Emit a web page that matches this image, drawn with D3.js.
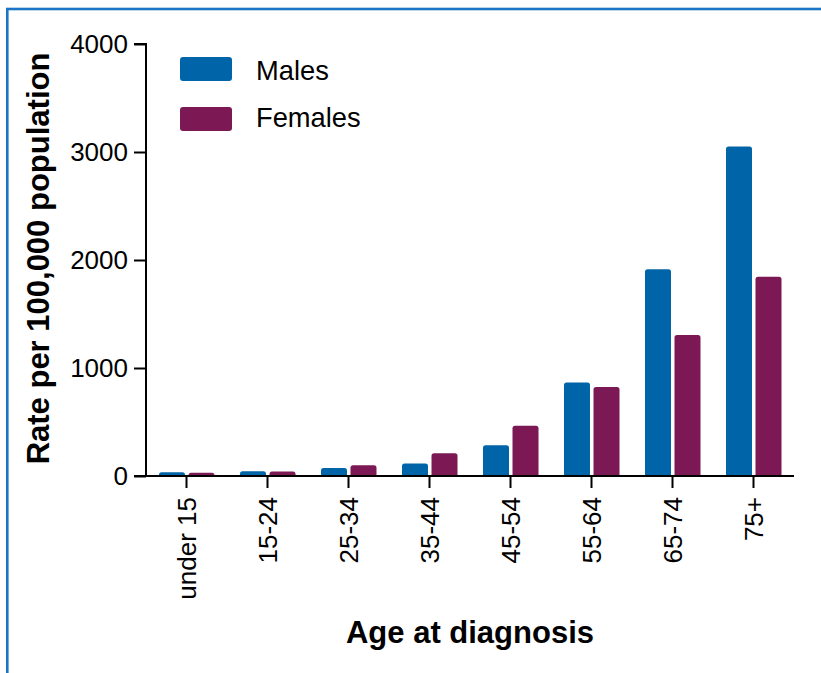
<!DOCTYPE html>
<html><head><meta charset="utf-8">
<script src="https://cdn.jsdelivr.net/npm/d3@7"></script>
<style>
html,body{margin:0;padding:0;background:#fff;}
svg{display:block;font-family:"Liberation Sans",Arial,Helvetica,sans-serif;}
</style></head>
<body>
<svg id="chart" width="821" height="673"></svg>
<script>
const categories = ["under 15","15-24","25-34","35-44","45-54","55-64","65-74","75+"];
const seriesNames = ["Males","Females"];
const males   = [35, 45, 75, 115, 285, 865, 1915, 3050];
const females = [30, 42, 100, 210, 465, 825, 1305, 1845];
const yTicks = [0, 1000, 2000, 3000, 4000];
const colors = ["#0064a8", "#7c1955"];

(function () {
const svg = d3.select("#chart");
const mLeft = 146, mRight = 794, mTop = 44, mBottom = 476;

// frame
svg.append("rect").attr("x", 7.3).attr("y", 9).attr("width", 900).attr("height", 900)
  .attr("fill", "none").attr("stroke", "#1a76c4").attr("stroke-width", 2.6);

const x0 = d3.scaleBand().domain(categories).range([mLeft, mRight]).paddingInner(0).paddingOuter(0);
const bw = x0.bandwidth();
const x1 = d3.scaleBand().domain(seriesNames).range([bw/2 - 27.5, bw/2 + 28]).paddingInner(0.119).paddingOuter(0);
const y = d3.scaleLinear().domain([0, 4000]).range([mBottom, mTop]);

const data = categories.map((c, i) => ({cat: c, vals: [males[i], females[i]]}));

function barPath(x, y0, w, yTop, r) {
  const h = y0 - yTop;
  r = Math.min(r, h, w/2);
  return `M${x},${y0}V${yTop + r}Q${x},${yTop} ${x + r},${yTop}H${x + w - r}Q${x + w},${yTop} ${x + w},${yTop + r}V${y0}Z`;
}

const g = svg.append("g");
data.forEach(d => {
  seriesNames.forEach((s, j) => {
    g.append("path")
      .attr("d", barPath(x0(d.cat) + x1(s), y(0), x1.bandwidth(), y(d.vals[j]), 2.5))
      .attr("fill", colors[j]);
  });
});

// y axis
const yAxis = d3.axisLeft(y).tickValues(yTicks).tickSize(12).tickPadding(6).tickFormat(d3.format("d"));
const ya = svg.append("g").attr("transform", `translate(${mLeft},0)`).call(yAxis);
ya.select(".domain").attr("stroke", "#000").attr("stroke-width", 2).attr("d", `M-12,${mTop}H0V${mBottom}H-12`);
ya.selectAll(".tick line").attr("stroke", "#000").attr("stroke-width", 2);
ya.selectAll(".tick text").attr("fill", "#000").style("font-size", "26px")
  .style("font-family", '"Liberation Sans",Arial,sans-serif');

// x axis
const xAxis = d3.axisBottom(x0).tickSize(12).tickPadding(8);
const xa = svg.append("g").attr("transform", `translate(0,${mBottom})`).call(xAxis);
xa.select(".domain").attr("stroke", "#000").attr("stroke-width", 2).attr("d", `M${mLeft},0H${mRight}`);
xa.selectAll(".tick line").attr("stroke", "#000").attr("stroke-width", 2);
xa.selectAll(".tick text").attr("fill", "#000").style("font-size", "26px")
  .style("font-family", '"Liberation Sans",Arial,sans-serif')
  .attr("text-anchor", "end")
  .attr("transform", "rotate(-90)")
  .attr("x", -21).attr("y", 0).attr("dy", "0.35em");

// axis titles
svg.append("text").attr("transform", `translate(49,${(52 + 465) / 2}) rotate(-90)`)
  .attr("text-anchor", "middle").style("font-size", "31px").style("font-weight", "bold")
  .text("Rate per 100,000 population");
svg.append("text").attr("x", (mLeft + mRight) / 2).attr("y", 643)
  .attr("text-anchor", "middle").style("font-size", "31px").style("font-weight", "bold")
  .text("Age at diagnosis");

// legend
const legend = svg.append("g");
seriesNames.forEach((s, j) => {
  legend.append("rect").attr("x", 180).attr("y", 57 + j * 50).attr("width", 52).attr("height", 24)
    .attr("rx", 3).attr("fill", colors[j]);
  legend.append("text").attr("x", 256).attr("y", 79.5 + j * 47).style("font-size", "27.3px").text(s);
});
})();
</script>
</body></html>
